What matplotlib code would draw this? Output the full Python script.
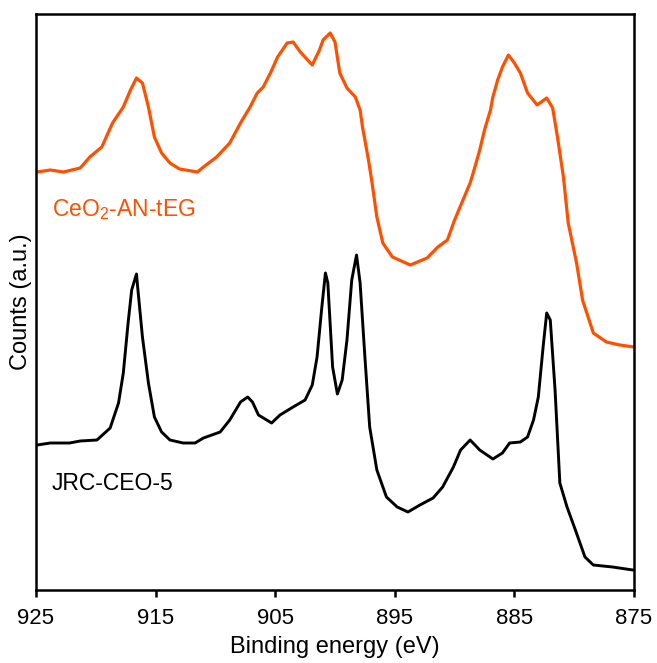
import matplotlib
matplotlib.use("Agg")
import matplotlib.pyplot as plt

plt.rcParams['font.family'] = ['Liberation Sans', 'DejaVu Sans']
plt.rcParams['mathtext.fontset'] = 'custom'
plt.rcParams['mathtext.rm'] = 'Liberation Sans'
plt.rcParams['mathtext.it'] = 'Liberation Sans:italic'

# Binding energy (eV) and counts (a.u.)
ceo2_tEG_eV = [924.9, 923.8, 922.7, 921.3, 920.5, 919.5, 918.6, 917.7, 917.1, 916.6,
               916.1, 915.6, 915.1, 914.5, 913.8, 913.0, 911.5, 911.0, 909.9, 908.8,
               907.9, 907.1, 906.5, 906.0, 905.4, 904.8, 904.0, 903.5, 902.9, 901.9,
               901.3, 901.0, 900.4, 900.0, 899.6, 899.0, 898.3, 897.9, 897.7, 897.2,
               896.9, 896.5, 896.0, 895.2, 893.7, 892.3, 891.4, 890.6, 890.0, 889.3,
               888.7, 888.3, 887.9, 887.5, 887.0, 886.8, 886.4, 886.0, 885.5, 885.0,
               884.5, 883.9, 883.1, 882.3, 881.8, 881.4, 880.9, 880.5, 879.8, 879.3,
               878.4, 877.3, 876.2, 875.0]
ceo2_tEG_counts = [418, 420, 418, 422, 433, 443, 467, 483, 500, 512,
                   507, 483, 453, 437, 427, 421, 418, 423, 433, 447,
                   467, 483, 497, 503, 517, 533, 547, 548, 538, 525,
                   540, 550, 557, 548, 517, 502, 493, 480, 463, 430,
                   407, 373, 347, 333, 325, 332, 343, 350, 370, 390,
                   407, 423, 440, 460, 480, 493, 510, 523, 535, 527,
                   517, 497, 485, 492, 482, 453, 413, 367, 327, 290,
                   257, 248, 245, 243]

jrc_eV = [924.9, 923.8, 922.2, 921.3, 919.9, 918.8, 918.1, 917.7, 917.3, 917.0,
          916.6, 916.5, 916.1, 915.6, 915.1, 914.5, 913.8, 912.7, 911.7, 911.0,
          909.6, 908.8, 907.9, 907.3, 906.9, 906.4, 905.3, 904.6, 903.5, 902.5,
          901.9, 901.5, 901.1, 900.8, 900.6, 900.2, 899.8, 899.4, 899.0, 898.6,
          898.2, 897.9, 897.5, 897.1, 896.5, 895.7, 894.8, 893.9, 892.9, 891.8,
          891.0, 890.1, 889.5, 888.7, 887.9, 886.8, 886.0, 885.4, 884.5, 883.9,
          883.4, 883.0, 882.6, 882.3, 882.0, 881.6, 881.2, 880.6, 879.9, 879.1,
          878.4, 876.8, 875.1]
jrc_counts = [145, 147, 147, 149, 150, 162, 187, 217, 267, 300,
              316, 303, 253, 207, 173, 158, 150, 147, 147, 152,
              158, 170, 188, 193, 188, 175, 167, 175, 183, 190,
              205, 233, 283, 317, 307, 223, 196, 210, 250, 310,
              335, 307, 233, 163, 120, 93, 83, 78, 85, 92,
              103, 123, 140, 150, 140, 131, 137, 147, 148, 153,
              170, 193, 243, 277, 270, 200, 107, 83, 60, 33,
              25, 23, 20]

x_ticks = [925, 915, 905, 895, 885, 875]
orange = '#FF5000'

fig = plt.figure(figsize=(6.57, 6.63), dpi=100)
ax = fig.add_axes([36/657, 73/663, 598/657, 576/663])

ax.plot(ceo2_tEG_eV, ceo2_tEG_counts, color=orange, lw=2.3, solid_joinstyle='round')
ax.plot(jrc_eV, jrc_counts, color='black', lw=2.1, solid_joinstyle='round')

ax.set_xlim(925, 875)
ax.set_ylim(0, 576)
ax.set_xticks(x_ticks)
ax.set_yticks([])
ax.tick_params(axis='x', direction='out', length=5, width=1.8, labelsize=16, pad=8)
for s in ax.spines.values():
    s.set_linewidth(1.8)

ax.set_xlabel('Binding energy (eV)', fontsize=17, labelpad=5)
ax.set_ylabel('Counts (a.u.)', fontsize=17, labelpad=3)

ax.text(923.7, 380, 'CeO$_2$-AN-tEG', color=orange, fontsize=16.5, ha='left', va='center')
ax.text(923.7, 107, 'JRC-CEO-5', color='black', fontsize=16.5, ha='left', va='center')

fig.savefig('out.png', dpi=100)
